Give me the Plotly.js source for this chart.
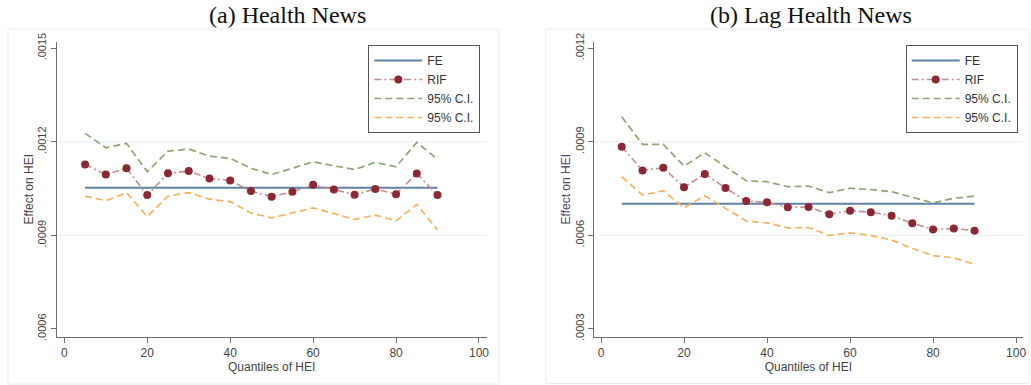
<!DOCTYPE html>
<html><head><meta charset="utf-8">
<script src="https://cdn.plot.ly/plotly-3.0.1.min.js"></script>
<style>html,body{margin:0;padding:0;background:#fff}#chart{width:1031px;height:385px}</style>
</head><body><div id="chart"></div>
<script>
const quantiles = [5,10,15,20,25,30,35,40,45,50,55,60,65,70,75,80,85,90];
const feA = 0.001053;
const rifA = [0.001127,0.001095,0.001115,0.001029,0.001099,0.001106,0.001082,0.001076,0.001042,0.001024,0.001040,0.001062,0.001047,0.001030,0.001049,0.001032,0.001098,0.001029];
const ciHiA = [0.001227,0.001181,0.001195,0.001104,0.001170,0.001177,0.001154,0.001147,0.001115,0.001095,0.001115,0.001136,0.001123,0.001111,0.001134,0.001120,0.001198,0.001144];
const ciLoA = [0.001026,0.001011,0.001037,0.000960,0.001026,0.001037,0.001016,0.001008,0.000972,0.000956,0.000972,0.000988,0.000970,0.000951,0.000965,0.000947,0.000999,0.000917];
const feB = 0.000701;
const rifB = [0.000884,0.000808,0.000817,0.000754,0.000797,0.000752,0.000710,0.000706,0.000690,0.000691,0.000668,0.000679,0.000674,0.000663,0.000639,0.000619,0.000622,0.000615];
const ciHiB = [0.000980,0.000892,0.000892,0.000822,0.000865,0.000820,0.000775,0.000772,0.000756,0.000758,0.000737,0.000751,0.000747,0.000740,0.000721,0.000704,0.000719,0.000726];
const ciLoB = [0.000788,0.000729,0.000743,0.000688,0.000727,0.000687,0.000646,0.000640,0.000624,0.000625,0.000600,0.000608,0.000600,0.000585,0.000558,0.000535,0.000528,0.000507];
const xTicks = [0,20,40,60,80,100];
const yTicksA = [0.0006,0.0009,0.0012,0.0015];
const yTickTextA = ['.0006','.0009','.0012','.0015'];
const yTicksB = [0.0003,0.0006,0.0009,0.0012];
const yTickTextB = ['.0003','.0006','.0009','.0012'];
const gridA = [0.0009,0.0012];
const gridB = [0.0006,0.0009];
const titles = ['(a) Health News','(b) Lag Health News'];
const names = ['FE','RIF','95% C.I.','95% C.I.'];
const xTitle = 'Quantiles of HEI';
const yTitle = 'Effect on HEI';

const C = {fe:'#5f82a8', rifLine:'#c48d92', rifMk:'#8c2833', hi:'#8ba672', lo:'#f5b25e', axis:'#6e6e6e', grid:'#eaf2f3', frame:'#e6eef0', text:'#444'};
const W = 1031, H = 385;
const sans = 'Liberation Sans, Arial, sans-serif';

function panel(fe, rif, hi, lo, xa, ya, leg) {
  const x0 = quantiles[0], x1 = quantiles[quantiles.length-1];
  return [
    {x:[x0,x1], y:[fe,fe], xaxis:xa, yaxis:ya, legend:leg, name:names[0], mode:'lines', line:{color:C.fe, width:2}},
    {x:quantiles, y:rif, xaxis:xa, yaxis:ya, legend:leg, name:names[1], mode:'lines+markers', line:{color:C.rifLine, width:1.6, dash:'7px,3px,2px,3px'}, marker:{color:C.rifMk, size:8}},
    {x:quantiles, y:hi, xaxis:xa, yaxis:ya, legend:leg, name:names[2], mode:'lines', line:{color:C.hi, width:1.7, dash:'7px,4px'}},
    {x:quantiles, y:lo, xaxis:xa, yaxis:ya, legend:leg, name:names[3], mode:'lines', line:{color:C.lo, width:1.7, dash:'7px,4px'}}
  ];
}
const data = panel(feA, rifA, ciHiA, ciLoA, 'x', 'y', 'legend')
  .concat(panel(feB, rifB, ciHiB, ciLoB, 'x2', 'y2', 'legend2'));

const yDom = [1-336.7/H, 1-41.7/H];
function xax(dom, rng) {
  return {domain:dom, range:rng, tickvals:xTicks, showgrid:false, zeroline:false, showline:true, linecolor:C.axis, linewidth:1,
    ticks:'outside', ticklen:5, tickcolor:C.axis, tickfont:{family:sans, size:12, color:C.text},
    title:{text:xTitle, font:{family:sans, size:12, color:C.text}, standoff:0}};
}
function yax(rng, tv, tt, titleColor) {
  return {domain:yDom, range:rng, tickvals:tv, ticktext:tt, tickangle:-90, showgrid:false, zeroline:false, showline:true,
    linecolor:C.axis, linewidth:1, ticks:'outside', ticklen:5, tickcolor:C.axis, tickfont:{family:sans, size:11, color:C.text},
    title:{text:yTitle, font:{family:sans, size:12, color:titleColor}, standoff:0}};
}
const xa1 = xax([56.7/W, 486.7/W], [-1.84, 101.86]); xa1.anchor='y';
const xa2 = xax([594/W, 1022.7/W], [-1.69, 101.6]); xa2.anchor='y2';
const ya1 = yax([0.000575, 0.001521], yTicksA, yTickTextA, '#444'); ya1.anchor='x';
const ya2 = yax([0.000275, 0.001221], yTicksB, yTickTextB, '#4e4470'); ya2.anchor='x2';

const shapes = [
  {type:'rect', xref:'paper', yref:'paper', x0:8/W, x1:499/W, y0:1-384/H, y1:1-29/H, line:{color:C.frame, width:1}, layer:'below'},
  {type:'rect', xref:'paper', yref:'paper', x0:545.7/W, x1:1029/W, y0:1-383.5/H, y1:1-29/H, line:{color:C.frame, width:1}, layer:'below'}
];
gridA.forEach(v => shapes.push({type:'line', xref:'x domain', yref:'y', x0:0, x1:1, y0:v, y1:v, line:{color:C.grid, width:1.2}, layer:'below'}));
gridB.forEach(v => shapes.push({type:'line', xref:'x2 domain', yref:'y2', x0:0, x1:1, y0:v, y1:v, line:{color:C.grid, width:1.2}, layer:'below'}));

const serif = 'Liberation Serif, Times New Roman, serif';
const annotations = [
  {text:titles[0], xref:'paper', yref:'paper', x:287/W, y:1-15.5/H, xanchor:'center', yanchor:'middle', showarrow:false, font:{family:serif, size:24, color:'#111'}},
  {text:titles[1], xref:'paper', yref:'paper', x:810.5/W, y:1-15.5/H, xanchor:'center', yanchor:'middle', showarrow:false, font:{family:serif, size:24, color:'#111'}}
];
function leg(x) {
  return {x:x, y:1-45/H, xref:'paper', yref:'paper', xanchor:'left', yanchor:'top', bgcolor:'#fff', bordercolor:'#555', borderwidth:1,
    font:{family:sans, size:12, color:'#333'}, itemwidth:48, tracegroupgap:0};
}
const layout = {
  width:W, height:H, margin:{l:0, r:0, t:0, b:0}, paper_bgcolor:'#fff', plot_bgcolor:'#fff', showlegend:true,
  xaxis:xa1, yaxis:ya1, xaxis2:xa2, yaxis2:ya2,
  legend:leg(368.3/W), legend2:leg(905.7/W),
  shapes:shapes, annotations:annotations
};
Plotly.newPlot('chart', data, layout, {staticPlot:true, displayModeBar:false});
</script></body></html>
